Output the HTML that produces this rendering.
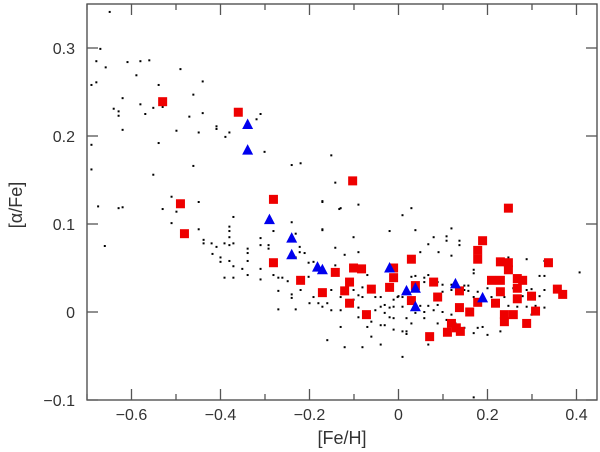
<!DOCTYPE html>
<html><head><meta charset="utf-8"><style>
html,body{margin:0;padding:0;background:#fff;}
svg{display:block;font-family:"Liberation Sans",sans-serif;}
</style></head><body>
<svg id="chart" width="600" height="452" viewBox="0 0 600 452">
<g id="dots"></g>
<g id="sq"></g>
<g id="tri"></g>
<g id="axes"></g>
</svg>
<script>
const xTicks=[-0.6,-0.4,-0.2,0,0.2,0.4];
const xMinor=[-0.7,-0.5,-0.3,-0.1,0.1,0.3];
const yTicks=[-0.1,0,0.1,0.2,0.3];
const xTickLabels=["−0.6","−0.4","−0.2","0","0.2","0.4"];
const yTickLabels=["−0.1","0","0.1","0.2","0.3"];
const sqX=[-0.530,-0.360,-0.490,-0.481,-0.281,-0.281,-0.220,-0.171,-0.142,-0.110,-0.121,-0.110,-0.101,-0.083,-0.103,-0.072,-0.061,-0.020,-0.011,-0.011,0.029,0.038,0.029,0.079,0.088,0.070,0.119,0.110,0.130,0.139,0.137,0.137,0.160,0.189,0.178,0.178,0.178,0.209,0.218,0.229,0.229,0.229,0.247,0.247,0.247,0.238,0.238,0.258,0.267,0.267,0.267,0.279,0.288,0.299,0.308,0.337,0.357,0.369];
const sqY=[0.239,0.227,0.123,0.089,0.128,0.056,0.036,0.022,0.045,0.034,0.024,0.010,0.050,0.049,0.149,-0.003,0.026,0.028,0.039,0.050,0.060,0.030,0.013,0.034,0.017,-0.028,-0.013,-0.023,-0.018,-0.022,0.024,0.005,0.000,0.081,0.070,0.060,0.011,0.036,0.010,0.057,0.036,0.023,0.118,0.056,0.048,-0.003,-0.011,-0.003,0.038,0.027,0.015,0.036,-0.013,0.018,0.001,0.056,0.026,0.020];
const triX=[-0.339,-0.339,-0.290,-0.240,-0.240,-0.182,-0.171,-0.020,0.018,0.038,0.038,0.128,0.189];
const triY=[0.213,0.184,0.105,0.084,0.065,0.051,0.048,0.050,0.024,0.027,0.006,0.032,0.016];
const dotX=[-0.649,-0.670,-0.679,-0.658,-0.609,-0.580,-0.560,-0.589,-0.490,-0.690,-0.679,-0.539,-0.440,-0.620,-0.580,-0.551,-0.530,-0.640,-0.629,-0.629,-0.569,-0.461,-0.470,-0.440,-0.310,-0.319,-0.409,-0.409,-0.380,-0.389,-0.620,-0.499,-0.449,-0.539,-0.301,-0.461,-0.240,-0.220,-0.151,-0.690,-0.551,-0.142,-0.629,-0.620,-0.510,-0.449,-0.171,-0.530,-0.499,-0.371,-0.240,-0.510,-0.380,-0.449,-0.171,-0.133,
-0.380,-0.380,-0.371,-0.380,-0.438,-0.438,-0.420,-0.409,-0.391,-0.418,-0.400,-0.400,-0.380,-0.371,-0.351,-0.339,-0.339,-0.339,-0.339,-0.391,-0.371,-0.310,-0.310,-0.310,-0.310,-0.292,-0.292,-0.281,-0.281,-0.270,-0.270,-0.270,-0.261,-0.249,-0.231,-0.240,-0.240,-0.231,-0.222,-0.222,-0.231,-0.220,-0.211,-0.202,-0.202,-0.200,-0.191,-0.191,-0.180,-0.171,-0.171,-0.171,-0.160,-0.160,-0.151,-0.151,-0.142,-0.142,-0.130,-0.130,-0.130,-0.130,-0.121,-0.121,-0.101,-0.101,-0.101,-0.090,-0.090,-0.090,-0.090,-0.090,-0.081,-0.081,-0.081,-0.070,-0.070,-0.061,-0.061,-0.052,-0.052,-0.040,-0.040,-0.040,-0.040,-0.031,-0.031,-0.031,-0.020,-0.020,-0.020,-0.011,0.000,-0.011,
0.009,0.029,0.038,0.119,0.108,0.108,0.079,0.067,0.137,0.137,0.090,0.049,0.119,0.169,0.169,0.247,0.288,0.328,0.407,0.317,0.328,0.029,0.038,0.058,0.058,0.067,0.088,0.099,0.099,0.119,0.119,0.148,0.148,0.157,0.157,0.169,0.178,0.200,0.209,0.238,0.258,0.279,0.288,0.299,0.317,0.328,0.328,0.308,0.299,0.288,0.267,0.247,0.229,0.200,0.189,0.178,0.169,0.148,0.128,0.119,0.108,0.099,0.088,0.088,0.079,0.067,0.058,0.058,0.049,0.038,0.029,0.018,0.018,0.018,0.009,0.009,0.009,-0.002,-0.011,-0.011,0.009,0.067,0.169,-0.690,-0.675,-0.660];
const dotY=[0.341,0.299,0.285,0.278,0.284,0.285,0.286,0.269,0.276,0.258,0.261,0.258,0.262,0.243,0.236,0.232,0.233,0.231,0.228,0.223,0.225,0.247,0.222,0.226,0.225,0.219,0.211,0.208,0.204,0.199,0.207,0.206,0.204,0.192,0.182,0.166,0.167,0.169,0.178,0.162,0.156,0.147,0.118,0.119,0.131,0.125,0.126,0.117,0.114,0.108,0.102,0.101,0.097,0.094,0.094,0.117,
0.092,0.085,0.078,0.076,0.082,0.078,0.078,0.074,0.078,0.066,0.062,0.057,0.058,0.052,0.049,0.072,0.067,0.058,0.042,0.039,0.039,0.084,0.076,0.049,0.037,0.076,0.072,0.092,0.042,0.039,0.024,0.003,0.039,0.035,0.089,0.020,0.016,0.003,0.074,0.068,0.062,0.025,0.067,0.056,0.040,0.010,0.057,0.017,0.010,0.093,0.125,0.006,0.010,-0.032,0.025,0.002,0.073,0.053,0.118,0.017,0.002,-0.017,0.065,-0.040,0.085,0.025,0.014,0.122,0.068,0.019,0.005,-0.006,0.028,0.017,-0.040,0.042,-0.017,-0.011,-0.028,0.017,0.002,0.017,0.006,-0.015,-0.037,0.008,-0.001,-0.015,0.092,0.005,-0.006,-0.020,0.018,0.014,
0.110,0.118,0.093,0.095,0.086,0.081,0.085,0.077,0.081,0.076,0.068,0.068,0.064,0.048,0.044,0.062,0.060,0.058,0.045,0.041,0.041,0.040,0.041,0.039,0.034,0.042,0.034,0.031,0.023,0.031,0.025,0.030,0.025,0.030,0.024,0.017,0.023,0.027,0.017,0.017,0.027,0.018,0.025,0.026,0.018,0.025,0.005,0.007,-0.003,0.006,0.006,0.007,-0.022,-0.026,-0.017,-0.018,-0.024,-0.018,-0.013,-0.003,-0.009,0.000,0.008,-0.013,0.002,0.007,-0.007,0.000,0.007,-0.001,-0.013,-0.007,-0.022,-0.025,-0.022,0.006,0.017,0.017,0.006,-0.007,-0.051,-0.037,-0.097,0.190,0.120,0.075];

const L=87,R=597,T=4,B=400;
const X0=-0.7,X1=0.4461,Y0=-0.1,Y1=0.35;
function sx(v){return L+(v-X0)/(X1-X0)*(R-L);}
function sy(v){return B-(v-Y0)/(Y1-Y0)*(B-T);}
const NS="http://www.w3.org/2000/svg";
function mk(tag,attrs,parent){const e=document.createElementNS(NS,tag);for(const k in attrs)e.setAttribute(k,attrs[k]);parent.appendChild(e);return e;}
const gD=document.getElementById('dots'),gS=document.getElementById('sq'),gT=document.getElementById('tri'),gA=document.getElementById('axes');
for(let i=0;i<dotX.length;i++){
 const e=mk('rect',{x:sx(dotX[i])-1,y:sy(dotY[i])-1,width:2,height:2,fill:'#000'},gD);
 
 
}
for(let i=0;i<sqX.length;i++){
 const e=mk('rect',{x:sx(sqX[i])-4.5,y:sy(sqY[i])-4.5,width:9,height:9,fill:'#ee0000'},gS);
 
 
}
for(let i=0;i<triX.length;i++){
 const cx=sx(triX[i]),cy=sy(triY[i]);
 const e=mk('polygon',{points:`${cx-5.5},${cy+4.5} ${cx+5.5},${cy+4.5} ${cx},${cy-6}`,fill:'#0000ee'},gT);
 
 
}
const fr=mk('rect',{x:L,y:T,width:R-L,height:B-T,fill:'none',stroke:'#444','stroke-width':1.3},gA);


for(let i=0;i<xTicks.length;i++){
 const x=sx(xTicks[i]);
 mk('line',{x1:x,x2:x,y1:B,y2:B-11,stroke:'#555','stroke-width':1.3},gA);
 mk('line',{x1:x,x2:x,y1:T,y2:T+11,stroke:'#555','stroke-width':1.3},gA);
 const t=mk('text',{x:x,y:B+20,'text-anchor':'middle','font-size':16,fill:'#333'},gA);
 t.textContent=xTickLabels[i];
 
 
}
for(let i=0;i<xMinor.length;i++){
 const x=sx(xMinor[i]);
 mk('line',{x1:x,x2:x,y1:B,y2:B-6,stroke:'#555','stroke-width':1.3},gA);
 mk('line',{x1:x,x2:x,y1:T,y2:T+6,stroke:'#555','stroke-width':1.3},gA);
}
for(let i=0;i<yTicks.length;i++){
 const y=sy(yTicks[i]);
 mk('line',{x1:L,x2:L+11,y1:y,y2:y,stroke:'#555','stroke-width':1.3},gA);
 mk('line',{x1:R,x2:R-11,y1:y,y2:y,stroke:'#555','stroke-width':1.3},gA);
 const t=mk('text',{x:L-12,y:y+6,'text-anchor':'end','font-size':16,fill:'#333'},gA);
 t.textContent=yTickLabels[i];
 
 
}
const xt=mk('text',{x:342,y:444,'text-anchor':'middle','font-size':18,fill:'#333'},gA);
xt.textContent='[Fe/H]';


const yt=mk('text',{x:0,y:0,'text-anchor':'middle','font-size':18,fill:'#333',transform:'translate(22,205) rotate(-90)'},gA);
yt.textContent='[α/Fe]';


</script>
</body></html>
